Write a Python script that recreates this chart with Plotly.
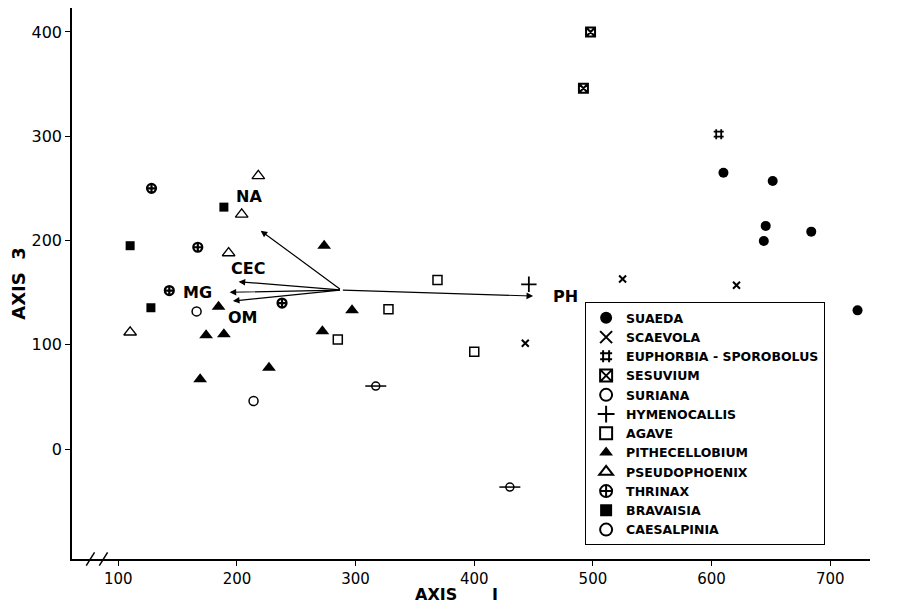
import plotly.graph_objects as go

# ---- data ----
suaeda_x = [610, 651.5, 645.6, 644, 684, 723]
suaeda_y = [265, 257, 214, 199.5, 208.5, 133]
scaevola_x = [525, 621, 443]
scaevola_y = [163, 157, 101.5]
euphorbia_x = [606]
euphorbia_y = [302]
sesuvium_x = [498, 492]
sesuvium_y = [400, 346]
suriana_x = [317, 430]
suriana_y = [60.4, -36.5]
hymeno_x = [446]
hymeno_y = [158]
agave_x = [369, 327.7, 285, 400]
agave_y = [162, 134, 105, 93.3]
pithe_x = [273.5, 297, 272, 227, 184.5, 174, 189, 169]
pithe_y = [195, 133, 113, 78, 136.5, 109, 110, 67]
pseudo_x = [218, 204, 193, 110]
pseudo_y = [262, 225, 188, 112]
thrinax_x = [128, 167, 143, 238]
thrinax_y = [250, 193.5, 152, 140]
bravaisia_x = [189, 110, 127.5]
bravaisia_y = [232, 195, 135.5]
caesal_x = [166, 214]
caesal_y = [132, 46]

# biplot vectors
vec_origin = (288, 152.5)
vec_names = ["NA", "CEC", "MG", "OM", "PH"]
vec_head_x = [220, 201.4, 193.8, 196.6, 449.6]
vec_head_y = [209.4, 160.5, 150.3, 142, 146.7]
vec_label_x = [210, 209.5, 167, 205.5, 477]
vec_label_y = [242, 173.6, 150.6, 126.6, 146.7]

x_ticks = [100, 200, 300, 400, 500, 600, 700]
y_ticks = [0, 100, 200, 300, 400]

FONT = "DejaVu Sans"

fig = go.Figure()

def add(name, xs, ys, symbol, size, lw=1.5, showlegend=True):
    fig.add_trace(go.Scatter(
        x=xs, y=ys, mode="markers", name="<b>" + name + "</b>",
        showlegend=showlegend, legendgroup=name,
        marker=dict(symbol=symbol, size=size, color="black",
                    line=dict(color="black", width=lw)),
        hoverinfo="skip"))

add("SUAEDA", suaeda_x, suaeda_y, "circle", 10, 0)
add("SCAEVOLA", scaevola_x, scaevola_y, "x-thin-open", 7, 2)
add("EUPHORBIA - SPOROBOLUS", euphorbia_x, euphorbia_y, "hash-open", 10, 1.8)
add("SESUVIUM", sesuvium_x, sesuvium_y, "square-x-open", 9, 2)
add("SURIANA", suriana_x, suriana_y, "circle-open", 8, 1.5)
fig.add_trace(go.Scatter(x=suriana_x, y=suriana_y, mode="markers", showlegend=False,
                         legendgroup="SURIANA",
                         marker=dict(symbol="line-ew-open", size=15, color="black",
                                     line=dict(color="black", width=1.5)),
                         hoverinfo="skip"))
add("HYMENOCALLIS", hymeno_x, hymeno_y, "cross-thin-open", 11, 1.8)
add("AGAVE", agave_x, agave_y, "square-open", 9, 1.5)
add("PITHECELLOBIUM", pithe_x, pithe_y, "triangle-up", 12, 0)
add("PSEUDOPHOENIX", pseudo_x, pseudo_y, "triangle-up-open", 11, 1.3)
add("THRINAX", thrinax_x, thrinax_y, "circle-cross-open", 9, 2.2)
add("BRAVAISIA", bravaisia_x, bravaisia_y, "square", 9, 0)
add("CAESALPINIA", caesal_x, caesal_y, "circle-open", 9, 1.5)

# vectors
for name, hx, hy, lx, ly in zip(vec_names, vec_head_x, vec_head_y, vec_label_x, vec_label_y):
    fig.add_annotation(x=hx, y=hy, ax=vec_origin[0], ay=vec_origin[1],
                       xref="x", yref="y", axref="x", ayref="y",
                       showarrow=True, arrowhead=2, arrowsize=1.1, arrowwidth=1.2,
                       arrowcolor="black", standoff=0, text="")
    fig.add_annotation(x=lx, y=ly, xref="x", yref="y", text="<b>" + name + "</b>",
                       showarrow=False, font=dict(family=FONT, size=16, color="black"))

# x axis title "AXIS  I" (two parts, straddling the 400 tick label as in the original)
fig.add_annotation(x=0.485, y=-0.064, xref="paper", yref="paper",
                   xanchor="right", yanchor="middle", showarrow=False,
                   text="<b>AXIS</b>", font=dict(family=FONT, size=16, color="black"))
fig.add_annotation(x=0.530, y=-0.064, xref="paper", yref="paper",
                   xanchor="center", yanchor="middle", showarrow=False,
                   text="<b>I</b>", font=dict(family=FONT, size=16, color="black"))

# axis break marks
for bx in (76.5, 87.5):
    fig.add_shape(type="line", xref="x", yref="paper",
                  x0=bx - 3.5, x1=bx + 3.5, y0=-0.012, y1=0.012,
                  line=dict(color="black", width=1.5))

fig.update_layout(
    width=900, height=603,
    margin=dict(l=64, r=38, t=0, b=52, autoexpand=False),
    paper_bgcolor="white", plot_bgcolor="white",
    font=dict(family=FONT, color="black"),
    xaxis=dict(range=[61, 733.5], tickvals=x_ticks, ticks="outside", ticklen=5,
               tickcolor="black", showline=True, linecolor="black", linewidth=1.5,
               showgrid=False, zeroline=False, tickfont=dict(size=15, family=FONT),
               automargin=False),
    yaxis=dict(range=[-105.5, 423.0], tickvals=y_ticks, ticks="outside", ticklen=5,
               tickcolor="black", showline=True, linecolor="black", linewidth=1.5,
               showgrid=False, zeroline=False, tickfont=dict(size=16, family=FONT),
               automargin=False,
               title=dict(text="<b>AXIS  3</b>", font=dict(size=18, family=FONT), standoff=8)),
    legend=dict(x=0.643, y=0.466, xanchor="left", yanchor="top",
                bordercolor="black", borderwidth=1, bgcolor="white",
                font=dict(family=FONT, size=12.5, color="black"),
                tracegroupgap=0, itemsizing="constant", itemwidth=30),
)

fig.write_html("out.html")
